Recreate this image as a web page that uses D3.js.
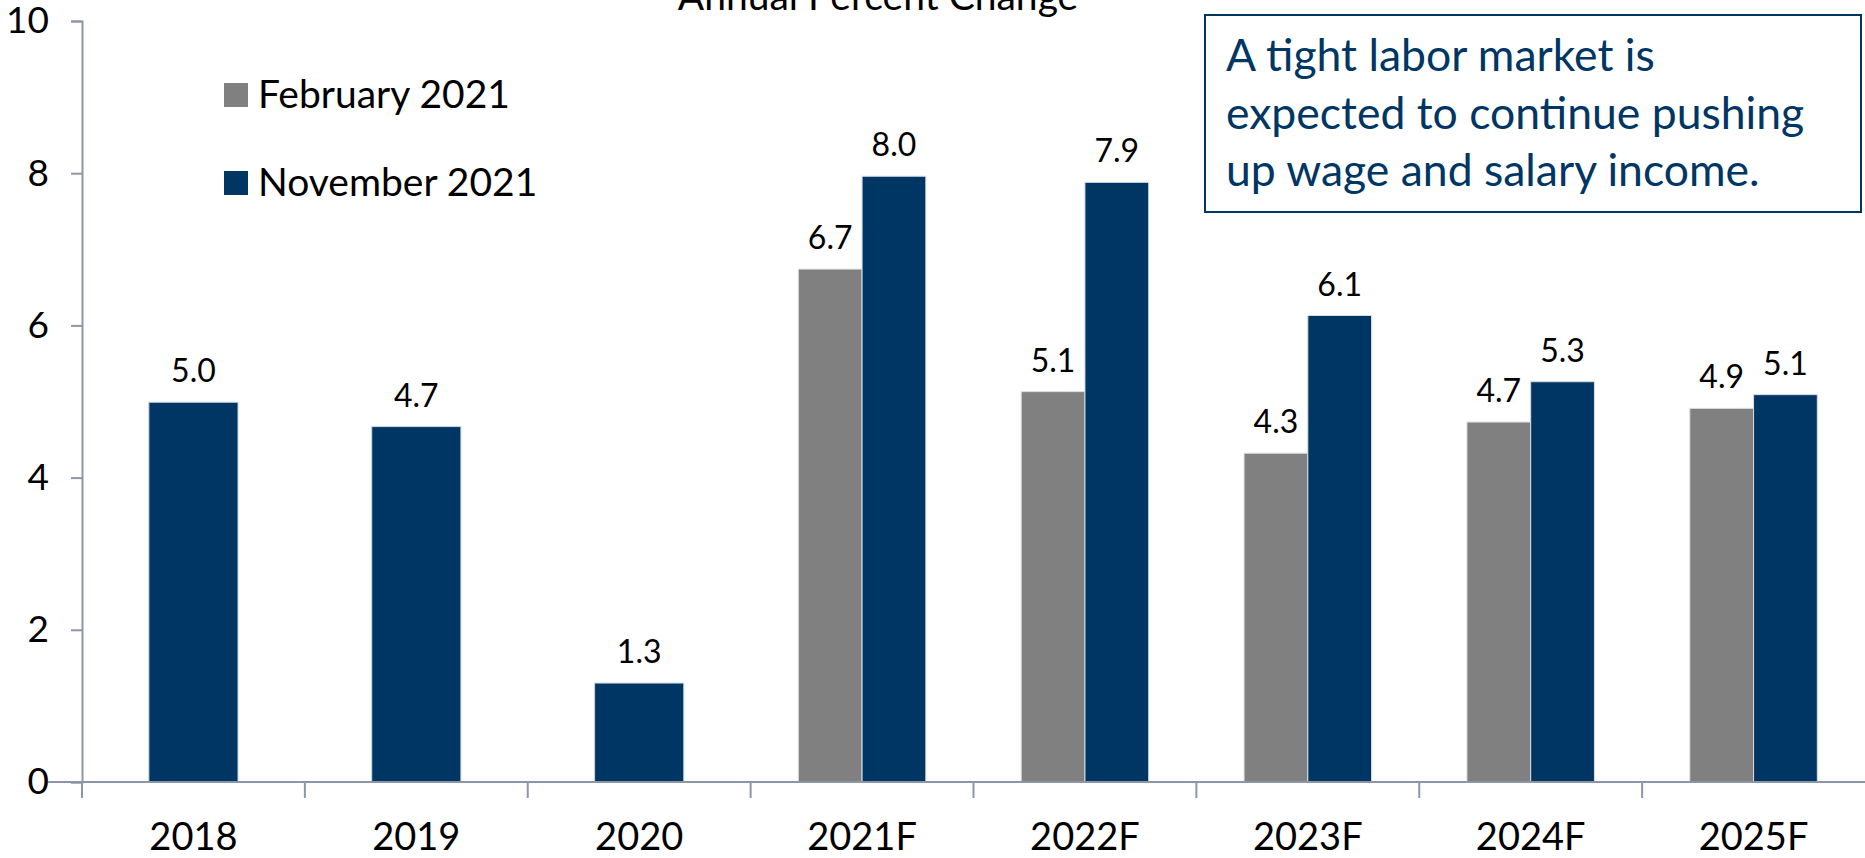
<!DOCTYPE html>
<html>
<head>
<meta charset="utf-8">
<script src="https://cdn.jsdelivr.net/npm/d3@7"></script>
<style>
  body { margin: 0; background: #fff; }
  svg { display: block; font-family: Lato, "Open Sans", sans-serif; }
</style>
</head>
<body>
<div id="chart"></div>
<script>
// data
var years = ["2018", "2019", "2020", "2021F", "2022F", "2023F", "2024F", "2025F"];
var feb2021 = [null, null, null, 6.74, 5.13, 4.32, 4.73, 4.91];
var nov2021 = [4.99, 4.67, 1.3, 7.96, 7.88, 6.13, 5.26, 5.09];
var yTicks = [0, 2, 4, 6, 8, 10];
var seriesNames = ["February 2021", "November 2021"];
var note = ["A tight labor market is", "expected to continue pushing", "up wage and salary income."];

var W = 1865, H = 858;
var grey = "#808080", navy = "#003663", axisCol = "#8d96a8";

var svg = d3.select("#chart")
    .append("svg")
    .attr("width", W)
    .attr("height", H);

var x = d3.scaleBand().domain(years).range([82, 1865]);
var y = d3.scaleLinear().domain([0, 10]).range([782, 21]);
var fmt = d3.format(".1f");

// title, mostly cut off at top
svg.append("text")
    .attr("x", 878)
    .attr("y", 10)
    .attr("text-anchor", "middle")
    .attr("font-size", "39px")
    .text("Annual Percent Change");

// y axis
var yAxis = svg.append("g")
    .attr("transform", "translate(82,0)")
    .call(d3.axisLeft(y).tickValues(yTicks).tickSize(11).tickPadding(22));
yAxis.select(".domain").attr("stroke", axisCol).attr("stroke-width", 2);
yAxis.selectAll(".tick line").attr("stroke", axisCol).attr("stroke-width", 2);
yAxis.selectAll(".tick text").attr("font-size", "37px").attr("fill", "#000")
    .attr("font-family", "Lato");

// bars
var cats = years.map(function (d, i) { return { year: d, feb: feb2021[i], nov: nov2021[i] }; });
var bw = x.bandwidth();

cats.forEach(function (c) {
    var cx = x(c.year) + bw / 2;
    if (c.feb === null) {
        var w = bw * 0.4;
        svg.append("rect")
            .attr("x", cx - w / 2).attr("y", y(c.nov))
            .attr("width", w).attr("height", y(0) - y(c.nov))
            .attr("fill", navy).attr("stroke", "#c9d3e0").attr("stroke-width", 1);
        svg.append("text")
            .attr("x", cx).attr("y", y(c.nov) - 20)
            .attr("text-anchor", "middle").attr("font-size", "32px")
            .text(fmt(c.nov));
    } else {
        var w2 = bw * 0.286;
        var pairs = [[c.feb, grey, cx - w2], [c.nov, navy, cx]];
        pairs.forEach(function (p) {
            svg.append("rect")
                .attr("x", p[2]).attr("y", y(p[0]))
                .attr("width", w2).attr("height", y(0) - y(p[0]))
                .attr("fill", p[1]).attr("stroke", "#d8dde5").attr("stroke-width", 1);
            svg.append("text")
                .attr("x", p[2] + w2 / 2).attr("y", y(p[0]) - 20)
                .attr("text-anchor", "middle").attr("font-size", "32px")
                .text(fmt(p[0]));
        });
    }
});

// x axis
var xAxis = svg.append("g")
    .attr("transform", "translate(0," + y(0) + ")");
xAxis.append("line")
    .attr("x1", 48).attr("x2", 1865)
    .attr("stroke", axisCol).attr("stroke-width", 2);
xAxis.selectAll("line.tk")
    .data(years)
    .enter().append("line")
    .attr("class", "tk")
    .attr("x1", function (d) { return x(d); })
    .attr("x2", function (d) { return x(d); })
    .attr("y1", 0).attr("y2", 16)
    .attr("stroke", axisCol).attr("stroke-width", 2);
xAxis.selectAll("text")
    .data(years)
    .enter().append("text")
    .attr("x", function (d) { return x(d) + bw / 2; })
    .attr("y", 68)
    .attr("text-anchor", "middle")
    .attr("font-size", "38px")
    .text(function (d) { return d; });

// legend
var legend = svg.append("g");
[grey, navy].forEach(function (col, i) {
    legend.append("rect")
        .attr("x", 224).attr("y", 83 + i * 88)
        .attr("width", 24).attr("height", 24)
        .attr("fill", col);
    legend.append("text")
        .attr("x", 258).attr("y", 108 + i * 88)
        .attr("font-size", "39px")
        .text(seriesNames[i]);
});

// note box
svg.append("rect")
    .attr("x", 1205).attr("y", 15)
    .attr("width", 656).attr("height", 197)
    .attr("fill", "#fff").attr("stroke", navy).attr("stroke-width", 2);
for (var k = 0; k < note.length; k++) {
    svg.append("text")
        .attr("x", 1226)
        .attr("y", 71 + k * 57.5)
        .attr("font-size", "44.5px")
        .attr("fill", navy)
        .text(note[k]);
}
</script>
</body>
</html>
